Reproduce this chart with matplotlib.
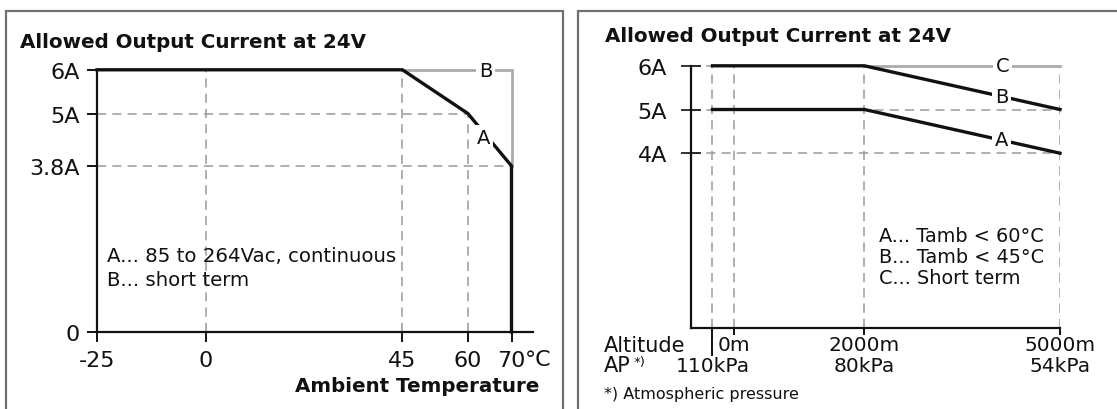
import matplotlib
matplotlib.use("Agg")
import matplotlib.pyplot as plt
from matplotlib.lines import Line2D
from matplotlib import rcParams

rcParams["font.family"] = ["DejaVu Sans"]

W, H = 1117, 410
INK = "#111111"
GRID = "#9a9a9a"
LIGHT = "#ababab"
FRAME = "#707070"

# ---- left chart: current vs ambient temperature
TEMP_TICKS = [-25, 0, 45, 60, 70]
TEMP_LABELS = ["-25", "0", "45", "60", "70"]
CURR_TICKS_L = [0, 3.8, 5, 6]
CURR_LABELS_L = ["0", "3.8A", "5A", "6A"]
TEMP_A = [-25, 45, 60, 70, 70]
CURR_A = [6, 6, 5, 3.8, 0]
TEMP_B = [45, 70, 70]
CURR_B = [6, 6, 3.8]

# ---- right chart: current vs altitude
ALT_TICKS = [0, 2000, 5000]
ALT_LABELS = ["0m", "2000m", "5000m"]
AP_POS = [-330, 2000, 5000]
AP_LABELS = ["110kPa", "80kPa", "54kPa"]
CURR_TICKS_R = [4, 5, 6]
CURR_LABELS_R = ["4A", "5A", "6A"]
ALT = [-330, 2000, 5000]
ALT_A = [5, 5, 4]
ALT_B = [6, 6, 5]
ALT_C_X = [2000, 5000]
ALT_C = [6, 6]

DASH = dict(color=GRID, linewidth=1.1, linestyles=(0, (6, 4)), zorder=1)
LBL = dict(fontsize=14, color=INK, ha="center", va="center", zorder=5,
           bbox=dict(facecolor="white", edgecolor="none", pad=2.0))


def add_axes_px(fig, x0, x1, ybot, ytop):
    return fig.add_axes([x0 / W, 1 - ybot / H, (x1 - x0) / W, (ybot - ytop) / H])


def frame_px(fig, pts):
    xs = [p[0] / W for p in pts]
    ys = [1 - p[1] / H for p in pts]
    fig.add_artist(Line2D(xs, ys, transform=fig.transFigure, color=FRAME,
                          linewidth=1.6, solid_joinstyle="miter"))


def base_style(ax):
    ax.set_facecolor("none")
    for s in ("top", "right"):
        ax.spines[s].set_visible(False)
    for s in ("left", "bottom"):
        ax.spines[s].set_linewidth(1.6)
        ax.spines[s].set_color(INK)
    ax.spines["left"].set_bounds(0, 6)


fig = plt.figure(figsize=(W / 100, H / 100), dpi=100)
fig.patch.set_facecolor("white")

# frames
frame_px(fig, [(6, 430), (6, 11.7), (562.7, 11.7), (562.7, 430)])
frame_px(fig, [(577.7, 430), (577.7, 11.7), (1130, 11.7)])

# ------------------------------------------------------------- left
pxu = (511.5 - 97) / 95.0
pyu = 43.7
ax = add_axes_px(fig, 97, 533, 333, 333 - 6.4 * pyu)
base_style(ax)
ax.set_xlim(-25, -25 + (533 - 97) / pxu)
ax.set_ylim(0, 6.4)

ax.hlines([5, 3.8], -25, [60, 70], **DASH)
ax.vlines([0, 45, 60], 0, [6, 6, 5], **DASH)

ax.plot(TEMP_B, CURR_B, color=LIGHT, linewidth=2.0, zorder=2,
        solid_joinstyle="miter", clip_on=False)
ax.plot(TEMP_A, CURR_A, color=INK, linewidth=2.4, zorder=3,
        solid_joinstyle="miter", clip_on=False)
ax.text(64.0, 5.98, "B", **LBL)
ax.text(63.6, 4.46, "A", **LBL)

ax.set_xticks(TEMP_TICKS)
ax.set_xticklabels(TEMP_LABELS, fontsize=16, color=INK)
ax.set_yticks(CURR_TICKS_L)
ax.set_yticklabels(CURR_LABELS_L, fontsize=16, color=INK)
ax.tick_params(axis="x", direction="out", length=7.2, width=1.4, pad=5.5, color=INK)
ax.tick_params(axis="y", direction="out", length=7.2, width=1.4, pad=5.0, color=INK)
ax.annotate("°C", (70, 0), xytext=(9.5, -19.4), textcoords="offset points",
            ha="left", va="center", fontsize=16, color=INK, annotation_clip=False)

ax.text(-22.7, 1.75, "A... 85 to 264Vac, continuous", fontsize=14.2,
        color=INK, ha="left", va="center", zorder=4)
ax.text(-22.7, 1.19, "B... short term", fontsize=14.2,
        color=INK, ha="left", va="center", zorder=4)

fig.text(20 / W, 1 - 42.7 / H, "Allowed Output Current at 24V", fontsize=14.3,
         fontweight="bold", color=INK, ha="left", va="center")
fig.text(539 / W, 1 - 386.7 / H, "Ambient Temperature", fontsize=14.3,
         fontweight="bold", color=INK, ha="right", va="center")

# ------------------------------------------------------------- right
rxu = (1060 - 734) / 5000.0
ax2 = add_axes_px(fig, 691, 1060, 329, 329 - 6.4 * pyu)
base_style(ax2)
ax2.set_xlim(-(734 - 691) / rxu, 5000)
ax2.set_ylim(0, 6.4)

x_left = ax2.get_xlim()[0]
ax2.hlines([5, 4, 6], x_left, [5000, 5000, ALT[0]], **DASH)
ax2.vlines([ALT[0]] + ALT_TICKS, 0, 6, **DASH)

ax2.plot(ALT_C_X, ALT_C, color=LIGHT, linewidth=2.0, zorder=2, clip_on=False)
ax2.plot(ALT, ALT_B, color=INK, linewidth=2.4, zorder=3, clip_on=False)
ax2.plot(ALT, ALT_A, color=INK, linewidth=2.4, zorder=3, clip_on=False)
ax2.text(4125, 6.0, "C", **LBL)
ax2.text(4105, 5.29, "B", **LBL)
ax2.text(4105, 4.32, "A", **LBL)

ax2.set_yticks(CURR_TICKS_R)
ax2.set_yticklabels(CURR_LABELS_R, fontsize=16, color=INK)
ax2.tick_params(axis="y", direction="inout", length=15, width=1.2, pad=9.8, color=INK)
ax2.set_xticks(ALT_TICKS)
ax2.set_xticklabels([])
ax2.set_xticks([ALT[0]], minor=True)
ax2.tick_params(axis="x", which="major", direction="out", length=5, width=1.4, color=INK)
ax2.tick_params(axis="x", which="minor", direction="out", length=20, width=1.4, color=INK)

row1 = -(345.5 - 329) / pyu
row2 = -(366.5 - 329) / pyu
row3 = -(395 - 329) / pyu
x_txt = (603.6 - 734) / rxu
for x, s in zip(ALT_TICKS, ALT_LABELS):
    ax2.text(x, row1, s, fontsize=14.5, color=INK, ha="center", va="center", clip_on=False)
for x, s in zip(AP_POS, AP_LABELS):
    ax2.text(x, row2, s, fontsize=14.5, color=INK, ha="center", va="center", clip_on=False)
ax2.text(x_txt, row1, "Altitude", fontsize=15, color=INK, ha="left", va="center")
ax2.text(x_txt, row2, "AP", fontsize=15, color=INK, ha="left", va="center")
ax2.annotate("*)", (x_txt, row2), xytext=(21.5, 3), textcoords="offset points",
             fontsize=9.5, color=INK, ha="left", va="center", annotation_clip=False)
ax2.text(x_txt, row3, "*) Atmospheric pressure", fontsize=11.5, color=INK,
         ha="left", va="center")

for y, s in zip([2.11, 1.64, 1.16],
                ["A... Tamb < 60°C", "B... Tamb < 45°C", "C... Short term"]):
    ax2.text(2224, y, s, fontsize=13.9, color=INK, ha="left", va="center", zorder=4)

fig.text(604.6 / W, 1 - 36.7 / H, "Allowed Output Current at 24V", fontsize=14.3,
         fontweight="bold", color=INK, ha="left", va="center")

fig.savefig("out.png", dpi=100, facecolor="white")
